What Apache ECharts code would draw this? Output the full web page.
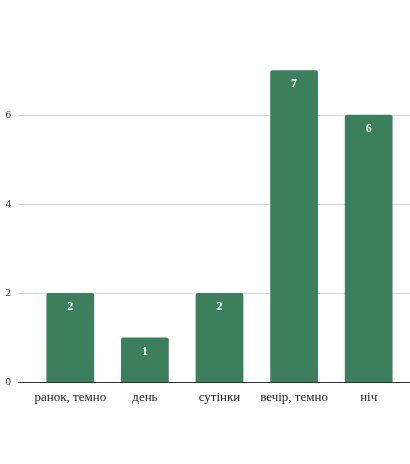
<!DOCTYPE html>
<html>
<head>
<meta charset="utf-8">
<style>
  html, body { margin: 0; padding: 0; background: #ffffff; }
  #chart { width: 410px; height: 464px; }
</style>
<script src="https://cdn.jsdelivr.net/npm/echarts@6/dist/echarts.min.js"></script>
</head>
<body>
<div id="chart"></div>
<script>
// Time-of-day categories and their counts
const categories = ['ранок, темно', 'день', 'сутінки', 'вечір, темно', 'ніч'];
const counts = [2, 1, 2, 7, 6];
const yTicks = [0, 2, 4, 6];

const yMin = 0;
const yMax = 7.5;
const tickStep = 2;

const chart = echarts.init(document.getElementById('chart'));
const serif = '"Liberation Serif", "DejaVu Serif", serif';

chart.setOption({
  animation: false,
  // Grid 0 holds the bars; grid 1 only carries the value axis labels and
  // grid lines, which run a little further to the left than the bars' area.
  grid: [
    { left: 33, right: 4, top: 48, bottom: 82 },
    { left: 18, right: 0, top: 48, bottom: 82 }
  ],
  xAxis: [
    {
      gridIndex: 0,
      type: 'category',
      data: categories,
      axisLine: { show: false },
      axisTick: { show: false },
      axisLabel: {
        color: '#1a1a1a',
        fontFamily: serif,
        fontSize: 13,
        margin: 9,
        interval: 0
      }
    },
    {
      gridIndex: 1,
      type: 'value',
      min: 0,
      max: 1,
      show: false
    }
  ],
  yAxis: [
    {
      gridIndex: 0,
      type: 'value',
      min: yMin,
      max: yMax,
      interval: tickStep,
      show: false,
      splitLine: { show: false }
    },
    {
      gridIndex: 1,
      type: 'value',
      min: yMin,
      max: yMax,
      interval: tickStep,
      axisLine: { show: false },
      axisTick: { show: false },
      axisLabel: {
        showMaxLabel: false,
        color: '#333',
        fontFamily: serif,
        fontSize: 11,
        margin: 7,
        formatter: v => (yTicks.indexOf(v) >= 0 ? String(v) : '')
      },
      splitLine: {
        showMaxLine: false,
        lineStyle: { color: '#d6d6d6', width: 1 }
      }
    }
  ],
  series: [
    {
      type: 'bar',
      xAxisIndex: 0,
      yAxisIndex: 0,
      data: counts,
      barWidth: '64%',
      itemStyle: { color: '#3b7f5d', borderRadius: [2, 2, 0, 0] },
      label: {
        show: true,
        position: 'insideTop',
        distance: 8,
        color: '#ffffff',
        fontFamily: serif,
        fontWeight: 'bold',
        fontSize: 12
      },
      z: 3
    },
    {
      // baseline along zero
      type: 'line',
      xAxisIndex: 1,
      yAxisIndex: 1,
      data: [],
      markLine: {
        silent: true,
        symbol: 'none',
        label: { show: false },
        lineStyle: { color: '#333333', width: 1, type: 'solid' },
        data: [{ yAxis: 0 }]
      },
      z: 4
    }
  ]
});
</script>
</body>
</html>
